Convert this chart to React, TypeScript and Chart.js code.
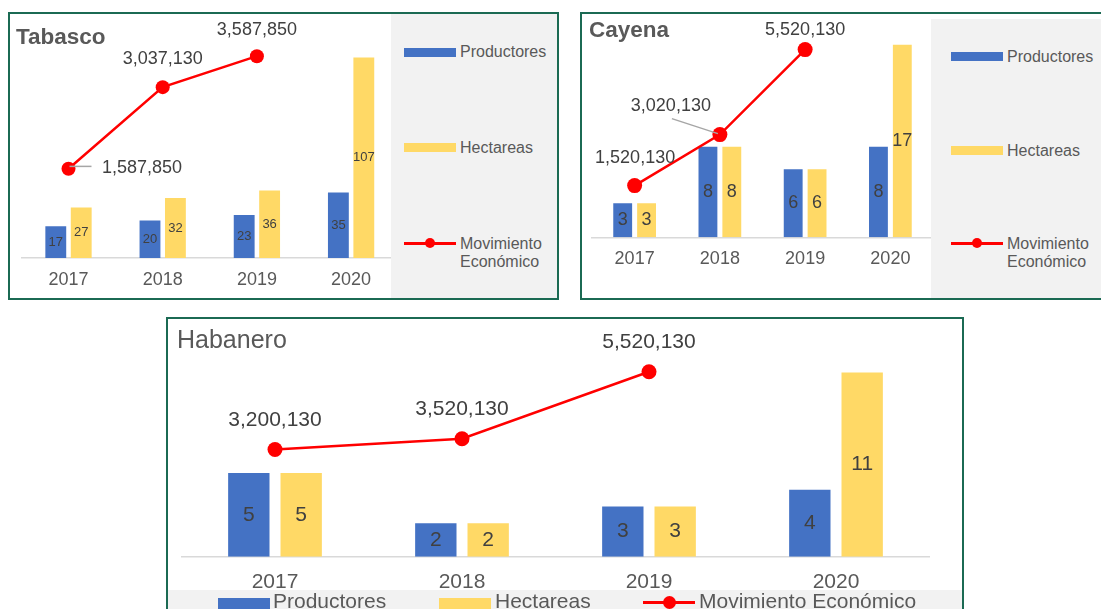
import React, { useEffect, useRef } from "react";
import { Chart, registerables } from "chart.js";

Chart.register(...registerables);

const FAMILY = "'Liberation Sans', Arial, Helvetica, sans-serif";
Chart.defaults.font.family = FAMILY;

// ---------- data ----------
const years = ["2017", "2018", "2019", "2020"];
const seriesNames = ["Productores", "Hectareas", "Movimiento Económico"];

const tabascoProductores = [17, 20, 23, 35];
const tabascoHectareas = [27, 32, 36, 107];
const tabascoMovimiento = [1587850, 3037130, 3587850, null];

const cayenaProductores = [3, 8, 6, 8];
const cayenaHectareas = [3, 8, 6, 17];
const cayenaMovimiento = [1520130, 3020130, 5520130, null];

const habaneroProductores = [5, 2, 3, 4];
const habaneroHectareas = [5, 2, 3, 11];
const habaneroMovimiento = [3200130, 3520130, 5520130, null];

// ---------- styles ----------
const BLUE = "#4472c4";
const GOLD = "#ffd966";
const RED = "#ff0000";
const FRAME = "#1b6a53";
const PANEL_BG = "#f2f2f2";
const TEXT_DARK = "#404040";
const TEXT_MID = "#595959";

type LabelPos = {
  dx: number;
  dy: number;
  align: CanvasTextAlign;
  leader?: [number, number, number, number];
};

type ComboProps = {
  canvas: { left: number; top: number; width: number; height: number };
  area: { left: number; right: number; top: number; bottom: number };
  barMax: number;
  lineMax: number;
  productores: number[];
  hectareas: number[];
  movimiento: (number | null)[];
  tickSize: number;
  tickPadding: number;
  barFont: number;
  lineFont: number;
  lineLabels: LabelPos[];
  barPercentage: number;
  categoryPercentage: number;
  pointRadius: number;
  lineWidth: number;
};

function ComboChart(p: ComboProps) {
  const ref = useRef<HTMLCanvasElement | null>(null);

  useEffect(() => {
    if (!ref.current) return;
    // Chart.js reserves the tick padding on both sides of the labels
    const axisH = 2 * p.tickPadding + p.tickSize * 1.2;
    const padding = {
      left: p.area.left - p.canvas.left,
      right: p.canvas.left + p.canvas.width - p.area.right,
      top: p.area.top - p.canvas.top,
      bottom: p.canvas.top + p.canvas.height - p.area.bottom - axisH,
    };

    const labelsPlugin = {
      id: "valueLabels",
      afterDatasetsDraw(chart: any) {
        const ctx: CanvasRenderingContext2D = chart.ctx;
        ctx.save();
        chart.data.datasets.forEach((ds: any, di: number) => {
          const meta = chart.getDatasetMeta(di);
          if (meta.type === "bar") {
            ctx.font = `${p.barFont}px ${FAMILY}`;
            ctx.fillStyle = TEXT_DARK;
            ctx.textAlign = "center";
            ctx.textBaseline = "middle";
            meta.data.forEach((el: any, i: number) => {
              const v = ds.data[i];
              if (v == null) return;
              const { x, y, base } = el.getProps(["x", "y", "base"], true);
              ctx.fillText(String(v), x, (y + base) / 2);
            });
          } else {
            meta.data.forEach((el: any, i: number) => {
              const v = ds.data[i];
              if (v == null) return;
              const { x, y } = el.getProps(["x", "y"], true);
              const o = p.lineLabels[i];
              if (o.leader) {
                ctx.strokeStyle = "#a6a6a6";
                ctx.lineWidth = 1.5;
                ctx.beginPath();
                ctx.moveTo(x + o.leader[0], y + o.leader[1]);
                ctx.lineTo(x + o.leader[2], y + o.leader[3]);
                ctx.stroke();
              }
              ctx.font = `${p.lineFont}px ${FAMILY}`;
              ctx.fillStyle = TEXT_DARK;
              ctx.textAlign = o.align;
              ctx.textBaseline = "middle";
              ctx.fillText(Number(v).toLocaleString("en-US"), x + o.dx, y + o.dy);
            });
          }
        });
        ctx.restore();
      },
    };

    const chart = new Chart(ref.current, {
      type: "bar",
      data: {
        labels: years,
        datasets: [
          {
            type: "line",
            label: seriesNames[2],
            data: p.movimiento,
            borderColor: RED,
            backgroundColor: RED,
            borderWidth: p.lineWidth,
            pointRadius: p.pointRadius,
            pointBackgroundColor: RED,
            pointBorderColor: RED,
            pointBorderWidth: 0,
            yAxisID: "y1",
            order: 0,
            spanGaps: false,
            tension: 0,
          } as any,
          {
            type: "bar",
            label: seriesNames[0],
            data: p.productores,
            backgroundColor: BLUE,
            yAxisID: "y",
            order: 1,
            barPercentage: p.barPercentage,
            categoryPercentage: p.categoryPercentage,
          },
          {
            type: "bar",
            label: seriesNames[1],
            data: p.hectareas,
            backgroundColor: GOLD,
            yAxisID: "y",
            order: 1,
            barPercentage: p.barPercentage,
            categoryPercentage: p.categoryPercentage,
          },
        ],
      },
      options: {
        responsive: false,
        animation: false,
        devicePixelRatio: 1,
        layout: { padding, autoPadding: false },
        plugins: {
          legend: { display: false },
          tooltip: { enabled: false },
        },
        scales: {
          x: {
            offset: true,
            grid: { display: false, drawTicks: false },
            border: { display: true, color: "#d9d9d9", width: 1.5 },
            ticks: {
              color: TEXT_MID,
              padding: p.tickPadding,
              font: { family: FAMILY, size: p.tickSize },
              maxRotation: 0,
              autoSkip: false,
            },
          },
          y: { display: false, min: 0, max: p.barMax },
          y1: { display: false, min: 0, max: p.lineMax, position: "right" },
        },
      },
      plugins: [labelsPlugin],
    });
    return () => chart.destroy();
  }, []);

  return (
    <canvas
      ref={ref}
      width={p.canvas.width}
      height={p.canvas.height}
      style={{
        position: "absolute",
        left: p.canvas.left,
        top: p.canvas.top,
        width: p.canvas.width,
        height: p.canvas.height,
        zIndex: 1,
      }}
    />
  );
}

const abs = (left: number, top: number, extra: React.CSSProperties = {}): React.CSSProperties => ({
  position: "absolute",
  left,
  top,
  ...extra,
});

function TextAt(props: { left: number; cy: number; size: number; text: string; color?: string; bold?: boolean }) {
  const lh = Math.round(props.size * 1.2);
  return (
    <div
      style={abs(props.left, props.cy - lh / 2, {
        fontFamily: FAMILY,
        fontSize: props.size,
        lineHeight: `${lh}px`,
        color: props.color || TEXT_MID,
        fontWeight: props.bold ? "bold" : "normal",
        whiteSpace: "nowrap",
        zIndex: 3,
      })}
    >
      {props.text}
    </div>
  );
}

function Swatch(props: { left: number; top: number; w: number; h: number; color: string }) {
  return <div style={abs(props.left, props.top, { width: props.w, height: props.h, background: props.color, zIndex: 3 })} />;
}

function LineMarker(props: { left: number; cy: number; w: number; r: number; thick: number }) {
  return (
    <>
      <div style={abs(props.left, props.cy - props.thick / 2, { width: props.w, height: props.thick, background: RED, zIndex: 3 })} />
      <div
        style={abs(props.left + props.w / 2 - props.r, props.cy - props.r, {
          width: props.r * 2,
          height: props.r * 2,
          borderRadius: "50%",
          background: RED,
          zIndex: 3,
        })}
      />
    </>
  );
}

export default function App() {
  return (
    <div style={{ position: "absolute", left: 0, top: 0, width: 1101, height: 609, overflow: "hidden" }}>
      {/* ---------------- Tabasco ---------------- */}
      <div style={abs(8, 12, { width: 547, height: 284, border: `2px solid ${FRAME}`, background: "#fff" })} />
      <ComboChart
        canvas={{ left: 10, top: 14, width: 390, height: 284 }}
        area={{ left: 21.4, right: 398.2, top: 33, bottom: 258 }}
        barMax={120}
        lineMax={4000000}
        productores={tabascoProductores}
        hectareas={tabascoHectareas}
        movimiento={tabascoMovimiento}
        tickSize={18}
        tickPadding={11.2}
        barFont={13}
        lineFont={18}
        lineLabels={[
          { dx: 33.5, dy: -1, align: "left", leader: [1, -2.3, 23, -2.3] },
          { dx: 0, dy: -28, align: "center" },
          { dx: 0, dy: -26.5, align: "center" },
          { dx: 0, dy: -26.5, align: "center" },
        ]}
        barPercentage={0.82}
        categoryPercentage={0.54}
        pointRadius={7}
        lineWidth={2.5}
      />
      <div style={abs(391, 14, { width: 166, height: 284, background: PANEL_BG, zIndex: 2 })} />
      <TextAt left={16} cy={36} size={22.5} text="Tabasco" bold />
      <Swatch left={404} top={48} w={52} h={9} color={BLUE} />
      <TextAt left={460} cy={51.5} size={16} text={seriesNames[0]} />
      <Swatch left={404} top={143} w={52} h={9} color={GOLD} />
      <TextAt left={460} cy={147.5} size={16} text={seriesNames[1]} />
      <LineMarker left={404} cy={243.3} w={52} r={5} thick={3} />
      <TextAt left={460} cy={243.3} size={16} text="Movimiento" />
      <TextAt left={460} cy={261.2} size={16} text="Económico" />

      {/* ---------------- Cayena ---------------- */}
      <div style={abs(580, 12, { width: 560, height: 284, border: `2px solid ${FRAME}`, background: "#fff" })} />
      <ComboChart
        canvas={{ left: 583, top: 14, width: 352, height: 284 }}
        area={{ left: 592, right: 933, top: 33.3, bottom: 237.3 }}
        barMax={18}
        lineMax={6000000}
        productores={cayenaProductores}
        hectareas={cayenaHectareas}
        movimiento={cayenaMovimiento}
        tickSize={18}
        tickPadding={11}
        barFont={18}
        lineFont={18}
        lineLabels={[
          { dx: 0.5, dy: -28, align: "center" },
          { dx: -49, dy: -29, align: "center", leader: [-48, -16, -2, -1] },
          { dx: 0, dy: -20, align: "center" },
          { dx: 0, dy: -20, align: "center" },
        ]}
        barPercentage={0.79}
        categoryPercentage={0.56}
        pointRadius={7.5}
        lineWidth={2.5}
      />
      <div style={abs(931, 19, { width: 170, height: 279, background: PANEL_BG, zIndex: 2 })} />
      <TextAt left={589} cy={29.7} size={22.5} text="Cayena" bold />
      <Swatch left={951} top={52} w={52} h={9} color={BLUE} />
      <TextAt left={1007} cy={56.5} size={16} text={seriesNames[0]} />
      <Swatch left={951} top={146} w={52} h={9} color={GOLD} />
      <TextAt left={1007} cy={150} size={16} text={seriesNames[1]} />
      <LineMarker left={951} cy={243.3} w={52} r={5} thick={3} />
      <TextAt left={1007} cy={243.5} size={16} text="Movimiento" />
      <TextAt left={1007} cy={261.3} size={16} text="Económico" />

      {/* ---------------- Habanero ---------------- */}
      <div style={abs(166, 317, { width: 794, height: 320, border: `2px solid ${FRAME}`, background: "#fff" })} />
      <ComboChart
        canvas={{ left: 168, top: 319, width: 780, height: 290 }}
        area={{ left: 181.5, right: 929.5, top: 355.7, bottom: 556.7 }}
        barMax={12}
        lineMax={6000000}
        productores={habaneroProductores}
        hectareas={habaneroHectareas}
        movimiento={habaneroMovimiento}
        tickSize={21}
        tickPadding={12.5}
        barFont={21}
        lineFont={21}
        lineLabels={[
          { dx: 0, dy: -29, align: "center" },
          { dx: 0, dy: -30, align: "center" },
          { dx: 0, dy: -29.5, align: "center" },
          { dx: 0, dy: -29.5, align: "center" },
        ]}
        barPercentage={0.79}
        categoryPercentage={0.56}
        pointRadius={7.5}
        lineWidth={2.5}
      />
      <div style={abs(168, 590, { width: 794, height: 19, background: PANEL_BG, zIndex: 2 })} />
      <TextAt left={177} cy={338.5} size={25} text="Habanero" />
      <Swatch left={218} top={598} w={52} h={12} color={BLUE} />
      <TextAt left={273} cy={600.5} size={21} text={seriesNames[0]} />
      <Swatch left={439} top={598} w={52} h={12} color={GOLD} />
      <TextAt left={495} cy={600.5} size={21} text={seriesNames[1]} />
      <LineMarker left={643} cy={602.7} w={52} r={6.5} thick={3} />
      <TextAt left={699} cy={600.5} size={21} text={seriesNames[2]} />
    </div>
  );
}
